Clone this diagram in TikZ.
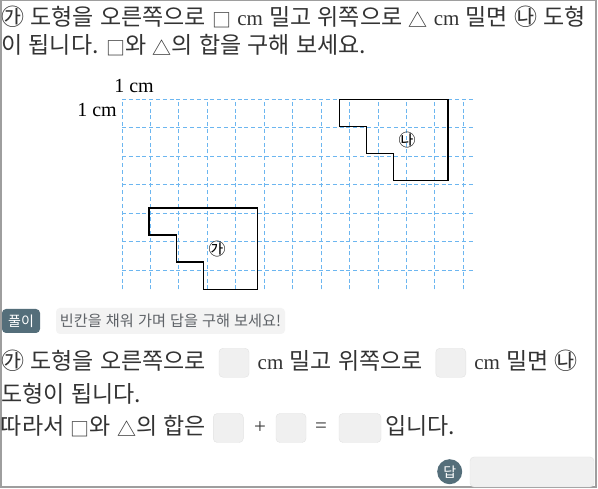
\documentclass[tikz,border=0pt]{standalone}
\usepackage{fontspec}
\setmainfont[WordSpace=1.2]{Noto Sans CJK KR}
\newfontfamily\tm{Liberation Serif}
\newcommand\smsq{\raisebox{-2pt}{\fontsize{19}{19}\selectfont □}}
\newcommand\smtri{\raisebox{-2pt}{\fontsize{19}{19}\selectfont △}}
\definecolor{txt}{HTML}{333333}
\definecolor{gridblue}{HTML}{6CB6F0}
\definecolor{slate}{HTML}{546E7A}
\definecolor{blankfill}{HTML}{F0F0F0}
\definecolor{blankline}{HTML}{E2E2E2}
\definecolor{hintbg}{HTML}{F3F3F3}
\definecolor{hinttxt}{HTML}{5F6368}
\definecolor{framegray}{HTML}{9E9E9E}
\begin{document}
\begin{tikzpicture}[x=1pt,y=-1pt,
  txtline/.style={anchor=base west, inner sep=0pt, text=txt, font=\fontsize{23}{26}\selectfont},
  blank/.style={draw=blankline, fill=blankfill, rounded corners=4pt, minimum width=30pt, minimum height=29pt, inner sep=0pt},
  gridline/.style={draw=gridblue, line width=1pt, dash pattern=on 4pt off 2.8pt},
  shapeline/.style={draw=black, line width=1.4pt, line join=miter},
  cmlabel/.style={inner sep=0pt, text=black, font=\tm\fontsize{20}{22}\selectfont},
  shapelabel/.style={inner sep=0pt, text=black, font=\fontsize{17}{17}\selectfont},
  badge/.style={fill=slate, rounded corners=4pt, text=white, inner sep=0pt, font=\fontsize{14}{14}\selectfont},
  opsign/.style={inner sep=0pt, text=txt, font=\tm\fontsize{21}{24}\selectfont}
]
\useasboundingbox (0,0) rectangle (598,489);
\fill[white] (0,0) rectangle (598,489);
\draw[framegray, line width=1.2pt] (1,0.6) rectangle (596,487);

% question text
\node[txtline] (q1) at (1.2,25.5) {㉮ 도형을 오른쪽으로 \smsq{} {\tm\fontsize{21}{24}\selectfont cm} 밀고 위쪽으로 \smtri{} {\tm\fontsize{21}{24}\selectfont cm} 밀면 ㉯ 도형};
\node[txtline] (q2) at (1.2,53.5) {이 됩니다. \smsq{}와 \smtri{}의 합을 구해 보세요.};

% grid
\node[cmlabel] (cmtop) at (134,86) {1 cm};
\node[cmlabel] (cmleft) at (97,110) {1 cm};
\begin{scope}[xshift=122pt, yshift=-99.3pt, x=27.15pt, y=-27.15pt]
  \draw[gridline] (0,0) grid (13,7);
  \draw[shapeline] (1,4) -- (5,4) -- (5,7) -- (3,7) -- (3,6) -- (2,6) -- (2,5) -- (1,5) -- cycle;
  \draw[shapeline] (8,0) -- (12,0) -- (12,3) -- (10,3) -- (10,2) -- (9,2) -- (9,1) -- (8,1) -- cycle;
  \node[shapelabel] (ga) at (3.5,5.5) {㉮};
  \node[shapelabel] (na) at (10.5,1.5) {㉯};
\end{scope}

% solution header
\node[badge, minimum width=38pt, minimum height=24pt] (pul) at (21,321) {풀이};
\node[fill=hintbg, rounded corners=4pt, minimum width=229pt, minimum height=26pt, inner sep=0pt,
      text=hinttxt, font=\fontsize{15.2}{16}\selectfont] (hint) at (170.5,321) {빈칸을 채워 가며 답을 구해 보세요!};

% line 3
\node[txtline] (s3a) at (1.2,369.7) {㉮ 도형을 오른쪽으로};
\node[blank] (b1) at (234,362.8) {};
\node[txtline] (s3b) at (257.5,369.7) {{\tm\fontsize{21}{24}\selectfont cm} 밀고 위쪽으로};
\node[blank] (b2) at (450.8,362.8) {};
\node[txtline] (s3c) at (474.2,369.7) {{\tm\fontsize{21}{24}\selectfont cm} 밀면 ㉯};
% line 4
\node[txtline] (s4) at (1.2,403) {도형이 됩니다.};
% line 5
\node[txtline] (s5a) at (0.8,434.7) {따라서 \smsq{}와 \smtri{}의 합은};
\node[blank] (b3) at (228.3,428) {};
\node[opsign] (plus) at (260,428) {+};
\node[blank] (b4) at (291,428) {};
\node[opsign] (eq) at (321,428) {=};
\node[blank, minimum width=42pt] (b5) at (360,428) {};
\node[txtline] (s5b) at (385,434.7) {입니다.};

% answer
\node[badge, circle, minimum size=25pt, rounded corners=0pt] (dap) at (449.7,471.7) {답};
\node[blank, minimum width=124pt, minimum height=30pt] (ans) at (532,472) {};
\end{tikzpicture}
\end{document}
